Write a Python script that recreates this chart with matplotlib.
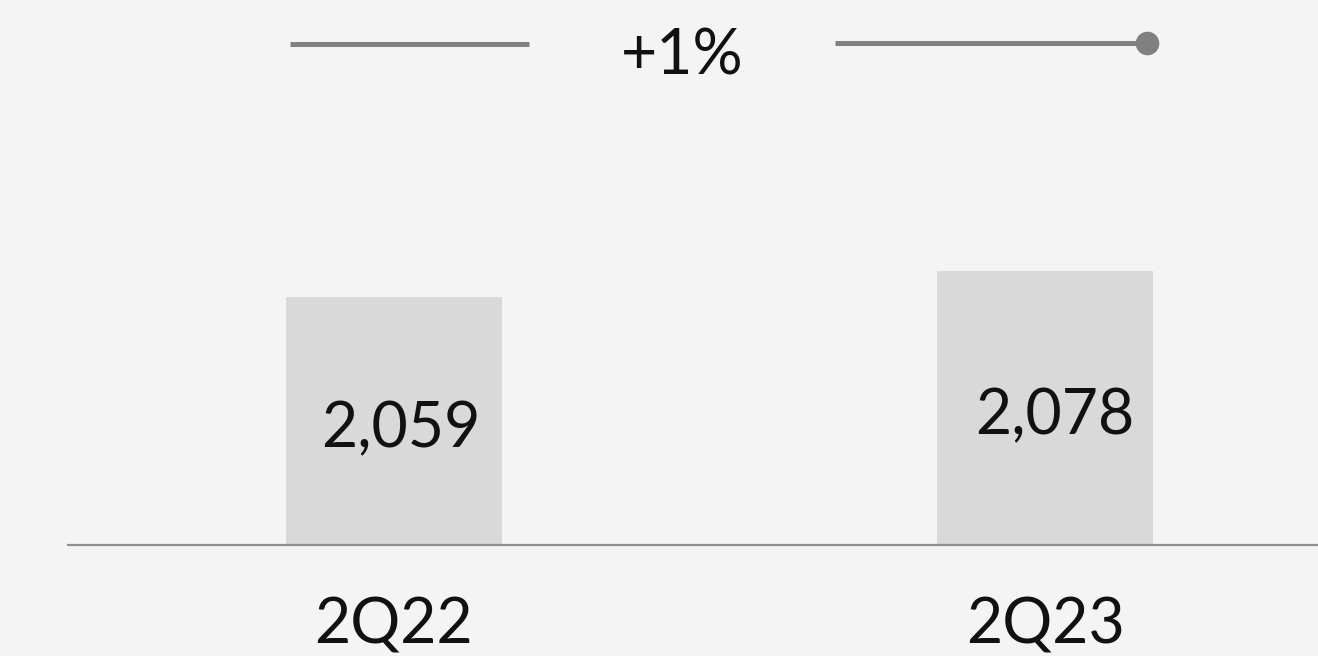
import matplotlib

matplotlib.use("Agg")
import matplotlib.pyplot as plt

categories = ["2Q22", "2Q23"]
values = [2059, 2078]
value_labels = ["2,059", "2,078"]
change_label = "+1%"

BG = "#f4f4f4"
BAR = "#d9d9d9"
LINE = "#808080"

plt.rcParams["font.family"] = ["Lato", "DejaVu Sans"]

fig = plt.figure(figsize=(13.18, 6.56), dpi=100, facecolor=BG)
ax = fig.add_axes([0, 0, 1, 1])
ax.set_facecolor(BG)

base = 1878
x = list(range(len(categories)))
ax.bar(x, [v - base for v in values], bottom=base, width=0.332, color=BAR, zorder=1)
ax.set_xlim(-0.605, 1.419)
ax.set_ylim(1796.6, 2276.1)

# baseline
ax.axhline(base, xmin=68 / 1318, xmax=1, color="#909090", lw=1.6, zorder=2)

# value labels inside bars (offsets are label placement only)
label_dx = [0.011, 0.014]
label_dy = [-110, -119]
for xi, v, lab, dx, dy in zip(x, values, value_labels, label_dx, label_dy):
    ax.text(xi + dx, v + dy, lab, ha="center", va="baseline",
            fontsize=45, fontweight="normal", color="#111111", zorder=3)

# category labels below baseline
for xi, lab in zip(x, categories):
    ax.text(xi, 1805.5, lab, ha="center", va="baseline",
            fontsize=45, fontweight="normal", color="#111111")

# growth connector at the top
yline = 2243.9
ax.plot([-0.16, 0.207], [yline, yline], color=LINE, lw=3.6, solid_capstyle="butt")
ax.plot([0.677, 1.156], [yline + 0.7, yline + 0.7], color=LINE, lw=3.6, solid_capstyle="butt")
ax.plot([1.156], [yline + 0.7], "o", color=LINE, ms=16)
ax.text(0.443, yline - 22.5, change_label, ha="center", va="baseline",
        fontsize=45, fontweight="normal", color="#111111")

ax.axis("off")
fig.savefig("out.png", dpi=100, facecolor=BG)
